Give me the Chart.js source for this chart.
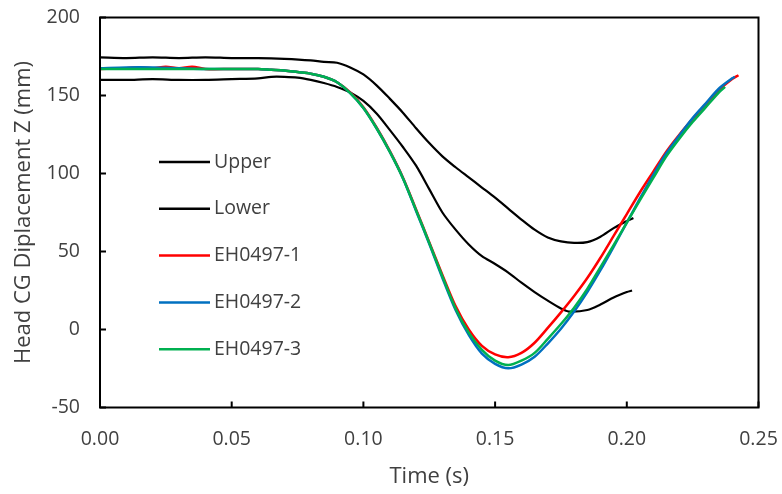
<!DOCTYPE html>
<html>
<head>
<meta charset="utf-8">
<script src="https://cdn.jsdelivr.net/npm/chart.js@4"></script>
<style>
html, body { margin: 0; padding: 0; background: #fff; }
#wrap { width: 782px; height: 494px; }
</style>
</head>
<body>
<div id="wrap"><canvas id="chart" width="782" height="494"></canvas></div>
<script>
// tick labels
const xTicks = [0, 0.05, 0.1, 0.15, 0.2, 0.25];
const yTicks = [-50, 0, 50, 100, 150, 200];

// corridor bounds
const upperTime = [0, 0.01, 0.02, 0.03, 0.04, 0.05, 0.06, 0.07, 0.08, 0.085, 0.09, 0.095, 0.1, 0.105, 0.11, 0.115, 0.12, 0.125, 0.13, 0.135, 0.14, 0.145, 0.15, 0.155, 0.16, 0.165, 0.17, 0.175, 0.18, 0.185, 0.19, 0.195, 0.2, 0.2025];
const upperZ = [174.5, 174, 174.5, 174, 174.5, 174, 174, 173.5, 172.5, 171.5, 171, 168, 163.5, 156.5, 148, 139, 129, 119.5, 111, 104, 97.5, 91, 84.5, 77.5, 70.5, 64, 59, 56.5, 55.5, 56, 59.5, 65, 69.5, 71.5];

const lowerTime = [0, 0.01, 0.02, 0.03, 0.04, 0.05, 0.06, 0.065, 0.07, 0.075, 0.08, 0.085, 0.09, 0.095, 0.1, 0.105, 0.11, 0.115, 0.12, 0.125, 0.13, 0.135, 0.14, 0.145, 0.15, 0.155, 0.16, 0.165, 0.17, 0.175, 0.178, 0.185, 0.19, 0.195, 0.2, 0.202];
const lowerZ = [160, 160, 160.5, 160, 160, 160.5, 161, 162, 162, 161.5, 160, 158, 155.5, 152, 146.5, 138.5, 128, 117, 105, 90, 75, 64, 54.5, 47, 42, 36.5, 30, 24, 18.5, 13.5, 11.5, 12.5, 16, 20.5, 24, 25];

// tests
const eh1Time = [0, 0.01, 0.015, 0.02, 0.025, 0.03, 0.035, 0.04, 0.05, 0.06, 0.065, 0.07, 0.075, 0.08, 0.085, 0.09, 0.095, 0.1, 0.105, 0.11, 0.115, 0.12, 0.125, 0.13, 0.135, 0.14, 0.145, 0.15, 0.155, 0.16, 0.165, 0.17, 0.175, 0.18, 0.185, 0.19, 0.195, 0.2, 0.205, 0.21, 0.215, 0.22, 0.225, 0.23, 0.235, 0.24, 0.2424];
const eh1Z = [167, 167.5, 168, 167.5, 168.5, 167.5, 168.5, 167, 167, 167, 166.5, 166, 165, 164, 162, 158.5, 152, 142.5, 129.5, 114.5, 97.5, 77, 56, 35, 15, 0, -10.5, -16, -17.8, -15, -8.5, 1, 11, 21.5, 33, 46, 60, 74, 88, 101, 114, 125, 135, 144.5, 153.5, 160.5, 163];

const eh2Time = [0, 0.01, 0.02, 0.03, 0.04, 0.05, 0.06, 0.065, 0.07, 0.075, 0.08, 0.085, 0.09, 0.095, 0.1, 0.105, 0.11, 0.115, 0.12, 0.125, 0.13, 0.135, 0.14, 0.145, 0.15, 0.155, 0.16, 0.165, 0.17, 0.175, 0.18, 0.185, 0.19, 0.195, 0.2, 0.205, 0.21, 0.215, 0.22, 0.225, 0.23, 0.235, 0.24, 0.241];
const eh2Z = [167.5, 168, 168, 167.5, 167, 167, 167, 166.5, 166, 165, 164, 162, 158.5, 151.5, 142, 129, 114, 97, 76, 55, 33, 12.5, -3.5, -15.5, -22, -24.9, -22.5, -17.5, -9, 0.5, 11.5, 24, 38, 53, 68.5, 84, 99, 113, 124.5, 135.5, 145, 154.5, 161, 162];

const eh3Time = [0, 0.01, 0.02, 0.03, 0.04, 0.05, 0.06, 0.065, 0.07, 0.075, 0.08, 0.085, 0.09, 0.095, 0.1, 0.105, 0.11, 0.115, 0.12, 0.125, 0.13, 0.135, 0.14, 0.145, 0.15, 0.155, 0.16, 0.165, 0.17, 0.175, 0.18, 0.185, 0.19, 0.195, 0.2, 0.205, 0.21, 0.215, 0.22, 0.225, 0.23, 0.235, 0.2373];
const eh3Z = [167, 167, 167, 167, 167, 167, 167, 166.5, 166, 165, 164, 162, 158.5, 151.5, 142, 129, 114, 97, 76.5, 55.5, 34, 13.5, -2, -13, -20, -22.8, -20, -15, -6, 3.5, 14, 26, 40, 54, 68.5, 83, 97, 111, 122.5, 133, 142.5, 152, 155.5];

const FONT = "'Open Sans', sans-serif";
const TEXT = "#404040";

function pts(ts, zs) {
	return ts.map((t, i) => ({ x: t, y: zs[i] }));
}

function line(label, ts, zs, color, width, order) {
	return {
		label,
		data: pts(ts, zs),
		borderColor: color,
		backgroundColor: color,
		borderWidth: width,
		pointRadius: 0,
		tension: 0.3,
		fill: false,
		order,
	};
}

// box round the plot + inward tick marks + legend inside the plot
const frame = {
	id: "frame",
	afterDatasetsDraw(chart) {
		const { ctx, chartArea: a, scales } = chart;
		ctx.save();
		ctx.strokeStyle = "#000";
		ctx.lineWidth = 2;
		ctx.strokeRect(a.left, a.top, a.right - a.left, a.bottom - a.top);
		ctx.beginPath();
		xTicks.forEach((v) => {
			const px = scales.x.getPixelForValue(v);
			ctx.moveTo(px, a.bottom);
			ctx.lineTo(px, a.bottom - 6);
		});
		yTicks.forEach((v) => {
			const py = scales.y.getPixelForValue(v);
			ctx.moveTo(a.left, py);
			ctx.lineTo(a.left + 6, py);
		});
		ctx.stroke();

		// legend
		const x0 = a.left + 59;
		const y0 = a.top + 144.5;
		const step = 46.8;
		ctx.font = "19.5px " + FONT;
		ctx.textBaseline = "middle";
		ctx.textAlign = "left";
		chart.data.datasets.forEach((ds, i) => {
			const y = y0 + i * step;
			ctx.strokeStyle = ds.borderColor;
			ctx.lineWidth = 2.5;
			ctx.beginPath();
			ctx.moveTo(x0, y);
			ctx.lineTo(x0 + 51, y);
			ctx.stroke();
			ctx.fillStyle = TEXT;
			ctx.fillText(ds.label, x0 + 55, y);
		});
		ctx.restore();
	},
};

new Chart(document.getElementById("chart"), {
	type: "line",
	data: {
		datasets: [
			line("Upper", upperTime, upperZ, "#000000", 2.2, 5),
			line("Lower", lowerTime, lowerZ, "#000000", 2.2, 4),
			line("EH0497-1", eh1Time, eh1Z, "#FF0000", 2.5, 3),
			line("EH0497-2", eh2Time, eh2Z, "#0070C0", 2.5, 2),
			line("EH0497-3", eh3Time, eh3Z, "#00B050", 2.5, 1),
		],
	},
	options: {
		responsive: false,
		animation: false,
		layout: { padding: { top: 17.5, right: 23.5, bottom: 0, left: 0 } },
		plugins: { legend: { display: false }, tooltip: { enabled: false } },
		scales: {
			x: {
				type: "linear",
				min: 0,
				max: 0.25,
				afterBuildTicks: (s) => { s.ticks = xTicks.map((v) => ({ value: v })); },
				afterFit: (s) => { s.height = 86.5; s.paddingLeft = 0; s.paddingRight = 0; },
				grid: { display: false, drawTicks: false },
				border: { display: false },
				ticks: {
					callback: (v) => Number(v).toFixed(2),
					font: { family: FONT, size: 19.5 },
					color: TEXT,
					padding: 20,
					maxRotation: 0,
					autoSkip: false,
				},
				title: {
					display: true,
					text: "Time (s)",
					font: { family: FONT, size: 22 },
					color: TEXT,
					padding: { top: 0, bottom: 4 },
				},
			},
			y: {
				min: -50,
				max: 200,
				afterBuildTicks: (s) => { s.ticks = yTicks.map((v) => ({ value: v })); },
				afterFit: (s) => { s.width = 100; s.paddingTop = 0; s.paddingBottom = 0; },
				grid: { display: false, drawTicks: false },
				border: { display: false },
				ticks: {
					font: { family: FONT, size: 19.5 },
					color: TEXT,
					padding: 20,
					autoSkip: false,
				},
				title: {
					display: true,
					text: "Head CG Diplacement Z (mm)",
					font: { family: FONT, size: 22 },
					color: TEXT,
					padding: { top: 10.5, bottom: 0 },
				},
			},
		},
	},
	plugins: [frame],
});
</script>
</body>
</html>
